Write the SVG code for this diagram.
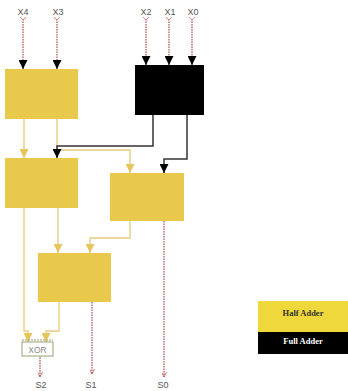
<svg xmlns="http://www.w3.org/2000/svg" width="348" height="391" viewBox="0 0 348 391">
<style>
.ha{fill:#E8C94C}
.fa{fill:#000}
.lbl{font-family:"Liberation Sans",Arial,sans-serif;font-size:9px;fill:#555;text-anchor:middle}
.inp{stroke:#B04848;stroke-width:1.2;stroke-dasharray:1.5 1;fill:none}
.blk{stroke:#333;stroke-width:1.5;fill:none}
.yl{stroke:#E3CC7C;stroke-width:1.3;fill:none}
.leg{font-family:"Liberation Serif","Times New Roman",serif;font-size:8.5px;font-weight:bold;text-anchor:middle}
</style>
<defs>
<marker id="ab" viewBox="0 0 10 10" refX="10" refY="5" markerWidth="9" markerHeight="9" markerUnits="userSpaceOnUse" orient="auto"><path d="M0,0L10,5L0,10z" fill="#000"/></marker>
<marker id="ay" viewBox="0 0 10 10" refX="10" refY="5" markerWidth="9" markerHeight="9" markerUnits="userSpaceOnUse" orient="auto"><path d="M0,0L10,5L0,10z" fill="#E6C65A"/></marker>
<marker id="ar" viewBox="0 0 10 10" refX="10" refY="5" markerWidth="5" markerHeight="5" markerUnits="userSpaceOnUse" orient="auto"><path d="M0,0L10,5L0,10" fill="none" stroke="#B04848" stroke-width="1.5"/></marker>
</defs>
<rect width="348" height="391" fill="#fff"/>
<g id="labels">
<text class="lbl" x="23" y="15">X4</text>
<text class="lbl" x="58" y="15">X3</text>
<text class="lbl" x="146" y="15">X2</text>
<text class="lbl" x="170" y="15">X1</text>
<text class="lbl" x="193" y="15">X0</text>
<text class="lbl" x="41" y="388">S2</text>
<text class="lbl" x="91" y="388">S1</text>
<text class="lbl" x="163" y="388">S0</text>
</g>
<g id="connectors">
<path class="inp" d="M23,19V62"/><path d="M20,17L23,20L26,17" stroke="#D07070" fill="none" stroke-width="0.8"/>
<path class="inp" d="M57,19V62"/><path d="M54,17L57,20L60,17" stroke="#D07070" fill="none" stroke-width="0.8"/>
<path class="inp" d="M146,19V58"/><path d="M143,17L146,20L149,17" stroke="#D07070" fill="none" stroke-width="0.8"/>
<path class="inp" d="M169,19V58"/><path d="M166,17L169,20L172,17" stroke="#D07070" fill="none" stroke-width="0.8"/>
<path class="inp" d="M192,19V58"/><path d="M189,17L192,20L195,17" stroke="#D07070" fill="none" stroke-width="0.8"/>
<path d="M23,60V69" stroke="#000" stroke-width="1" marker-end="url(#ab)"/>
<path d="M57,60V69" stroke="#000" stroke-width="1" marker-end="url(#ab)"/>
<path d="M146,56V65" stroke="#000" stroke-width="1" marker-end="url(#ab)"/>
<path d="M169,56V65" stroke="#000" stroke-width="1" marker-end="url(#ab)"/>
<path d="M192,56V65" stroke="#000" stroke-width="1" marker-end="url(#ab)"/>
<path class="yl" d="M24,119V158" marker-end="url(#ay)"/>
<path class="yl" d="M57,119V150H130V173" marker-end="url(#ay)"/>
<path class="blk" d="M153,115V146H57V158" marker-end="url(#ab)"/>
<path class="blk" d="M187,115V159H164V173" marker-end="url(#ab)"/>
<path class="yl" d="M24,208V331H28V342" marker-end="url(#ay)"/>
<path class="yl" d="M58,208V253" marker-end="url(#ay)"/>
<path class="yl" d="M130,221V238H90V253" marker-end="url(#ay)"/>
<path class="yl" d="M59,302V331H46V342" marker-end="url(#ay)"/>
<path class="inp" d="M164,221V377" marker-end="url(#ar)"/>
<path class="inp" d="M92,302V374" marker-end="url(#ar)"/>
<path class="inp" d="M40,355V377" marker-end="url(#ar)"/>
</g>
<g id="ha1"><rect class="ha" x="5" y="69" width="73" height="50"/></g>
<g id="fa1"><rect class="fa" x="135" y="65" width="69" height="50"/></g>
<g id="ha2"><rect class="ha" x="5" y="158" width="73" height="50"/></g>
<g id="ha3"><rect class="ha" x="110" y="173" width="74" height="48"/></g>
<g id="ha4"><rect class="ha" x="38" y="253" width="73" height="49"/></g>
<g id="xor">
<line x1="22" y1="340" x2="53" y2="340" stroke="#9A9A70" stroke-width="1" stroke-dasharray="2 1"/>
<rect x="22" y="342" width="31" height="14" fill="#fff" stroke="#9AA070" stroke-width="1"/>
<text class="lbl" x="37.5" y="352.5" style="font-size:8.5px;fill:#888">XOR</text>
</g>
<g id="legend">
<rect x="258" y="301" width="90" height="31" fill="#EED83C"/>
<rect x="258" y="332" width="90" height="22" fill="#000"/>
<text class="leg" x="303" y="316" fill="#333">Half Adder</text>
<text class="leg" x="303" y="344" fill="#fff">Full Adder</text>
</g>
</svg>
